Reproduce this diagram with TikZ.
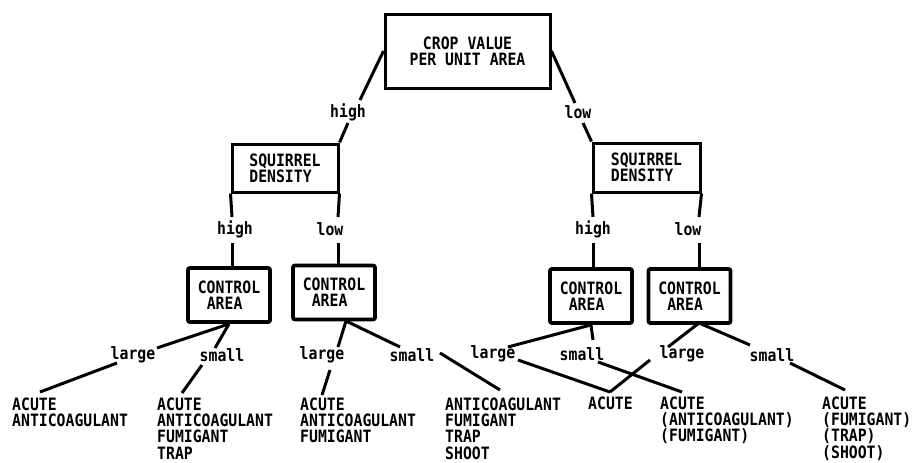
\documentclass[tikz,border=0pt]{standalone}
\usepackage{fontspec}
\setmonofont[FakeStretch=0.87]{DejaVu Sans Mono}
\begin{document}
\begin{tikzpicture}[x=1pt,y=-1pt,
  txt/.style={font=\ttfamily\bfseries\fontsize{17}{16.3}\selectfont, inner sep=0pt},
  box/.style={draw, line width=3pt, txt},
  cbox/.style={draw, txt, line width=3.8pt, rounded corners=2pt, align=left, minimum width=82pt, minimum height=54pt},
  lab/.style={txt},
  leaf/.style={txt, align=left, anchor=north west},
  con/.style={line width=3pt}]
\useasboundingbox (0,0) rectangle (913,463);

% boxes
\node[box, align=center, minimum width=165pt, minimum height=74pt] (top) at (467.5,51) {CROP VALUE\\PER UNIT AREA};
\node[box, align=left, minimum width=106pt, minimum height=48pt] (sqL) at (285,168) {SQUIRREL\\DENSITY};
\node[box, align=left, minimum width=107pt, minimum height=49pt] (sqR) at (646.5,167.5) {SQUIRREL\\DENSITY};
\node[cbox] (c1) at (229,295) {CONTROL\\\hspace*{9pt}AREA};
\node[cbox] (c2) at (334,292.5) {CONTROL\\\hspace*{9pt}AREA};
\node[cbox] (c3) at (591,296) {CONTROL\\\hspace*{9pt}AREA};
\node[cbox] (c4) at (689.5,296) {CONTROL\\\hspace*{9pt}AREA};

% labels
\node[lab] (hT) at (348,112) {high};
\node[lab] (lT) at (578,112) {low};
\node[lab] (hL) at (235,229) {high};
\node[lab] (lL) at (330,229) {low};
\node[lab] (hR) at (593,229) {high};
\node[lab] (lR) at (688,229) {low};
\node[lab] (g1) at (133,355) {large};
\node[lab] (m1) at (222,355) {small};
\node[lab] (g2) at (322,355) {large};
\node[lab] (m2) at (412,355) {small};
\node[lab] (g3) at (493,354) {large};
\node[lab] (m3) at (582,354) {small};
\node[lab] (g4) at (682,354) {large};
\node[lab] (m4) at (772,355) {small};

% leaves
\node[leaf] (L1) at (12,397.5) {ACUTE\\ANTICOAGULANT};
\node[leaf] (L2) at (157,397.5) {ACUTE\\ANTICOAGULANT\\FUMIGANT\\TRAP};
\node[leaf] (L3) at (300,397.5) {ACUTE\\ANTICOAGULANT\\FUMIGANT};
\node[leaf] (L4) at (445,397.5) {ANTICOAGULANT\\FUMIGANT\\TRAP\\SHOOT};
\node[leaf] (L5) at (588,396.5) {ACUTE};
\node[leaf] (L6) at (660,396.5) {ACUTE\\(ANTICOAGULANT)\\(FUMIGANT)};
\node[leaf] (L7) at (822,396.5) {ACUTE\\(FUMIGANT)\\(TRAP)\\(SHOOT)};

% connector points
\coordinate (t1) at (360,100); \coordinate (t2) at (348,123);
\coordinate (t3) at (575,103); \coordinate (t4) at (583,123);
\coordinate (s1) at (232,217); \coordinate (s2) at (232,243);
\coordinate (s3) at (338,217); \coordinate (s4) at (338,243);
\coordinate (s5) at (593,217); \coordinate (s6) at (593,243);
\coordinate (s7) at (699,217); \coordinate (s8) at (699,243);
\coordinate (k2) at (346,321); \coordinate (k4) at (699,323);
\coordinate (a1) at (157,348); \coordinate (a2) at (117,363); \coordinate (a3) at (40,392);
\coordinate (b1) at (215,348); \coordinate (b2) at (202,365); \coordinate (b3) at (182,393);
\coordinate (d1) at (338,347); \coordinate (d2) at (330,370); \coordinate (d3) at (322,395);
\coordinate (e1) at (400,347); \coordinate (e2) at (440,353); \coordinate (e3) at (500,390);
\coordinate (f1) at (508,347); \coordinate (f2) at (518,360); \coordinate (v) at (610,392);
\coordinate (h1) at (593,340); \coordinate (h2) at (598,362); \coordinate (h3) at (682,392);
\coordinate (i1) at (668,347); \coordinate (i2) at (650,360);
\coordinate (j1) at (750,345); \coordinate (j2) at (790,363); \coordinate (j3) at (845,390);

% connectors
\draw[con] (top.west) -- (t1);
\draw[con] (t2) -- (sqL.north east);
\draw[con] (top.east) -- (t3);
\draw[con] (t4) -- (sqR.north west);
\draw[con] (sqL.south west) -- (s1);
\draw[con] (s2) -- (s2 |- c1.north);
\draw[con] (sqL.south east) -- (s3);
\draw[con] (s4) -- (s4 |- c2.north);
\draw[con] (sqR.south west) -- (s5);
\draw[con] (s6) -- (s6 |- c3.north);
\draw[con] (sqR.south east) -- (s7);
\draw[con] (s8) -- (s8 |- c4.north);
\draw[con] (c1.south) -- (a1);
\draw[con] (a2) -- (a3);
\draw[con] (c1.south) -- (b1);
\draw[con] (b2) -- (b3);
\draw[con] (k2) -- (d1);
\draw[con] (d2) -- (d3);
\draw[con] (k2) -- (e1);
\draw[con] (e2) -- (e3);
\draw[con] (c3.south) -- (f1);
\draw[con] (f2) -- (v);
\draw[con] (c3.south) -- (h1);
\draw[con] (h2) -- (h3);
\draw[con] (k4) -- (i1);
\draw[con] (i2) -- (v);
\draw[con] (k4) -- (j1);
\draw[con] (j2) -- (j3);
\end{tikzpicture}
\end{document}
